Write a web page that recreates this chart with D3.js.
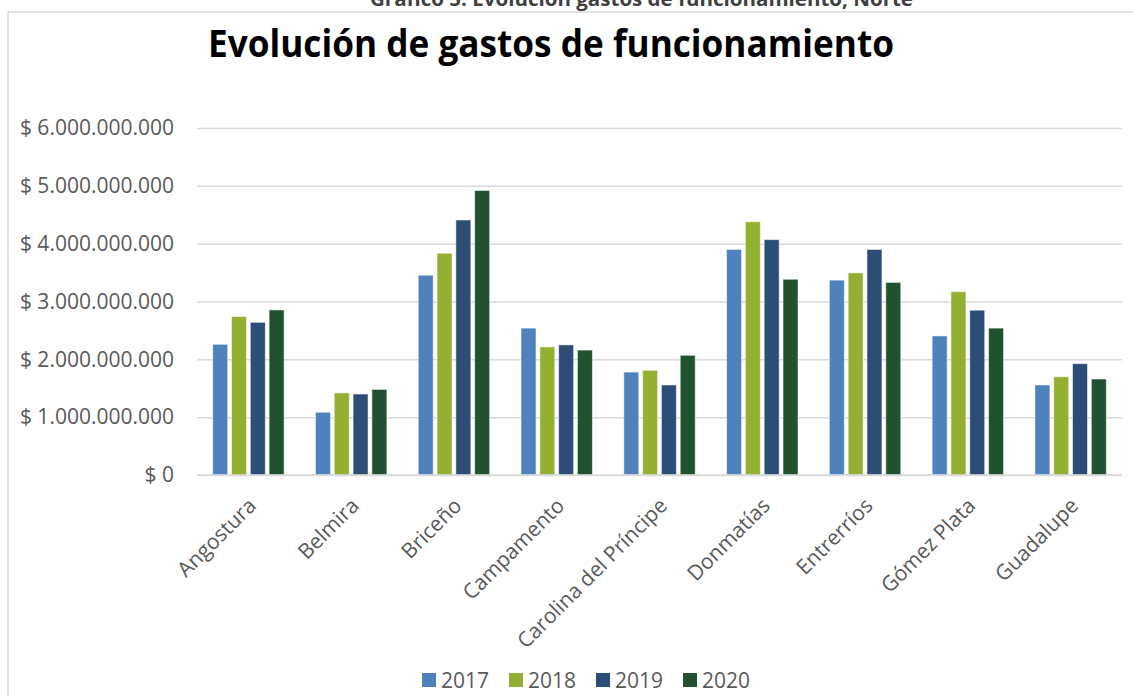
<!DOCTYPE html>
<html>
<head>
<meta charset="utf-8">
<script src="https://cdn.jsdelivr.net/npm/d3@7"></script>
<style>
  html, body { margin: 0; padding: 0; background: #ffffff; }
  svg { display: block; }
</style>
</head>
<body>
<svg id="chart" width="1133" height="696"></svg>
<script>
// ---- data ----
const categories = ["Angostura", "Belmira", "Briceño", "Campamento", "Carolina del Príncipe",
                    "Donmatías", "Entrerríos", "Gómez Plata", "Guadalupe"];
const years = ["2017", "2018", "2019", "2020"];
const values2017 = [2.26e9, 1.085e9, 3.455e9, 2.54e9, 1.78e9, 3.90e9, 3.37e9, 2.405e9, 1.557e9];
const values2018 = [2.74e9, 1.42e9, 3.835e9, 2.215e9, 1.81e9, 4.38e9, 3.495e9, 3.17e9, 1.70e9];
const values2019 = [2.64e9, 1.40e9, 4.41e9, 2.25e9, 1.557e9, 4.07e9, 3.90e9, 2.85e9, 1.925e9];
const values2020 = [2.855e9, 1.48e9, 4.92e9, 2.16e9, 2.07e9, 3.385e9, 3.33e9, 2.54e9, 1.66e9];
const yTicks = [0, 1e9, 2e9, 3e9, 4e9, 5e9, 6e9];
const headerText = "Gráfico 5. Evolución gastos de funcionamiento, Norte";
const titleText = "Evolución de gastos de funcionamiento";

const seriesValues = [values2017, values2018, values2019, values2020];
const colors = ["#4F81BD", "#94B032", "#2C4D75", "#215230"];

// ---- layout ----
const svg = d3.select("#chart");
const plot = { left: 197, right: 1122, top: 128, bottom: 475 };
const font = "'Open Sans', 'DejaVu Sans', sans-serif";
const textColor = "#595959";
const gridColor = "#d9d9d9";

// chart frame (extends beyond the visible area on right and bottom)
svg.append("rect")
  .attr("x", 8).attr("y", 12)
  .attr("width", 1200).attr("height", 800)
  .attr("fill", "none").attr("stroke", gridColor).attr("stroke-width", 1.5);

// header above the chart frame (cut by the top edge, as in the source)
svg.append("text")
  .attr("x", 370).attr("y", 5.5)
  .attr("textLength", 543).attr("lengthAdjust", "spacingAndGlyphs")
  .attr("font-family", font).attr("font-weight", "bold").attr("font-size", 20)
  .attr("fill", "#404040")
  .text(headerText);

// title
svg.append("text")
  .attr("x", 208).attr("y", 57)
  .attr("textLength", 686).attr("lengthAdjust", "spacingAndGlyphs")
  .attr("font-family", font).attr("font-weight", "bold").attr("font-size", 38)
  .attr("fill", "#000000")
  .text(titleText);

// scales
const x0 = d3.scaleBand().domain(categories).range([plot.left, plot.right])
  .paddingInner(0.305).paddingOuter(0.1525);
const x1 = d3.scaleBand().domain(years).range([0, x0.bandwidth()]).paddingInner(0.202);
const y = d3.scaleLinear().domain([0, 6e9]).range([plot.bottom, plot.top]);

const locale = d3.formatLocale({ decimal: ",", thousands: ".", grouping: [3], currency: ["$ ", ""] });
const fmt = locale.format("$,.0f");

// gridlines + y labels
const yAxis = d3.axisLeft(y).tickValues(yTicks).tickFormat(fmt)
  .tickSize(-(plot.right - plot.left)).tickPadding(23);
const yg = svg.append("g").attr("transform", `translate(${plot.left},0)`).call(yAxis);
yg.select(".domain").remove();
yg.selectAll(".tick line").attr("stroke", gridColor).attr("stroke-width", 1.5);
yg.selectAll(".tick text")
  .attr("font-family", font).attr("font-size", 21).attr("fill", textColor);

// bars
const groups = svg.append("g").selectAll("g")
  .data(categories).join("g")
  .attr("transform", d => `translate(${x0(d)},0)`);
groups.selectAll("rect")
  .data((d, i) => years.map((yr, s) => ({ yr, s, v: seriesValues[s][i] })))
  .join("rect")
  .attr("x", d => x1(d.yr))
  .attr("width", x1.bandwidth())
  .attr("y", d => y(d.v))
  .attr("height", d => y(0) - y(d.v))
  .attr("fill", d => colors[d.s])
  .attr("stroke", "#ffffff").attr("stroke-opacity", 0.55).attr("stroke-width", 1);

// x axis baseline
svg.append("line")
  .attr("x1", plot.left).attr("x2", plot.right)
  .attr("y1", y(0)).attr("y2", y(0))
  .attr("stroke", gridColor).attr("stroke-width", 1.5);

// x labels (rotated)
const xAxis = d3.axisBottom(x0).tickSize(0).tickPadding(0);
const xg = svg.append("g").attr("transform", `translate(0,${plot.bottom})`).call(xAxis);
xg.select(".domain").remove();
xg.selectAll(".tick text")
  .attr("font-family", font).attr("font-size", 21).attr("fill", textColor)
  .attr("text-anchor", "end")
  .attr("dy", 0)
  .attr("y", 0)
  .attr("transform", "translate(9,32) rotate(-45)");

// legend
const legend = svg.append("g");
const legendX = d3.scalePoint().domain(years).range([422, 683]);
const items = legend.selectAll("g").data(years).join("g")
  .attr("transform", d => `translate(${legendX(d)},673)`);
items.append("rect").attr("width", 14).attr("height", 14)
  .attr("fill", (d, i) => colors[i]);
items.append("text").attr("x", 19).attr("y", 14.5)
  .attr("font-family", font).attr("font-size", 21).attr("fill", textColor)
  .text(d => d);
</script>
</body>
</html>
